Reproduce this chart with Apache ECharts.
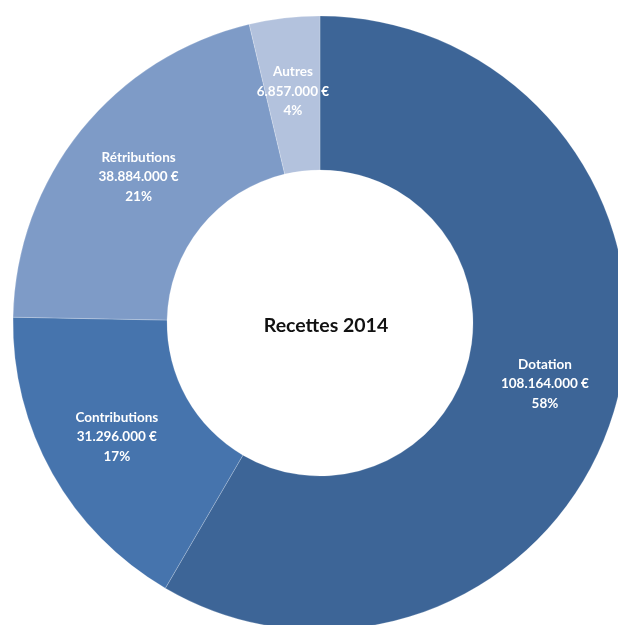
<!DOCTYPE html>
<html>
<head>
<meta charset="utf-8">
<script src="https://cdn.jsdelivr.net/npm/echarts@6/dist/echarts.min.js"></script>
<style>
  html, body { margin: 0; padding: 0; background: #ffffff; }
  #chart { width: 618px; height: 625px; }
</style>
</head>
<body>
<div id="chart"></div>
<script>
// Recettes 2014 — revenue breakdown (euros)
const categories = ['Dotation', 'Contributions', 'Rétributions', 'Autres'];
const amounts = [108164000, 31296000, 38884000, 6857000];
const colors = ['#3D6597', '#4674AD', '#7E9BC7', '#B3C2DD'];
const centerTitle = 'Recettes 2014';

const total = amounts.reduce((a, b) => a + b, 0);

function formatEuro(v) {
  return String(v).replace(/\B(?=(\d{3})+(?!\d))/g, '.') + ' €';
}

const data = categories.map((name, i) => ({
  name: name,
  value: amounts[i],
  itemStyle: { color: colors[i] }
}));

const chart = echarts.init(document.getElementById('chart'), null, { renderer: 'canvas' });
chart.setOption({
  animation: false,
  title: {
    text: centerTitle,
    left: 321,
    top: 321,
    textAlign: 'center',
    textVerticalAlign: 'middle',
    textStyle: { fontFamily: 'Lato', fontWeight: 'bold', fontSize: 19.5, color: '#111111' }
  },
  series: [{
    type: 'pie',
    center: [320, 323],
    radius: [153, 307],
    startAngle: 90,
    clockwise: true,
    avoidLabelOverlap: false,
    itemStyle: { borderColor: 'rgba(255,255,255,0.35)', borderWidth: 0.6 },
    label: {
      show: true,
      position: 'inside',
      color: '#ffffff',
      fontFamily: 'Lato',
      fontWeight: 'bold',
      fontSize: 13.5,
      lineHeight: 19.5,
      align: 'center',
      padding: [12, 0, 0, 0],
      formatter: p => p.name + '\n' + formatEuro(p.value) + '\n' + Math.round(p.value / total * 100) + '%'
    },
    labelLine: { show: false },
    emphasis: { disabled: true },
    data: data
  }]
});
</script>
</body>
</html>
